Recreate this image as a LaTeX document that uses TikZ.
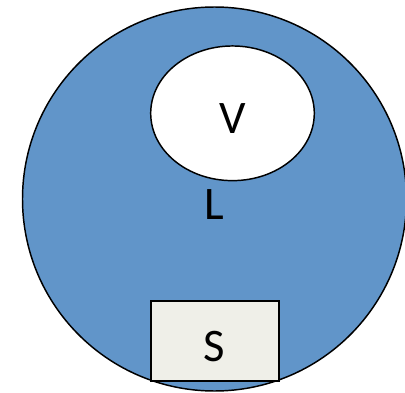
\documentclass[tikz,border=0pt]{standalone}
\usepackage{fontspec}
\setmainfont{Carlito}
\usetikzlibrary{shapes.geometric}

\definecolor{liquidblue}{HTML}{6195C9}
\definecolor{solidgrey}{HTML}{EFEFE8}

\begin{document}
\begin{tikzpicture}[
    x=0.75pt, y=-0.75pt,
    phase/.style={draw, line width=1.1pt, inner sep=0pt, text height=31pt, text depth=0pt,
        font=\fontsize{35}{42}\selectfont},
    liquid/.style={phase, circle, fill=liquidblue, minimum size=288pt},
    vapour/.style={phase, ellipse, fill=white, minimum width=122.7pt, minimum height=101pt},
    solid/.style={phase, rectangle, fill=solidgrey, line width=1.5pt,
        minimum width=96pt, minimum height=60pt}
]
\useasboundingbox (0,0) rectangle (405,393);

% Liquid
\node[liquid] (L) at (214.5,199) {L};

% Vapour bubble
\node[vapour] (V) at (232.5,113.3) {V};

% Solid
\node[solid] (S) at (214.7,340.7) {S};

\end{tikzpicture}
\end{document}
